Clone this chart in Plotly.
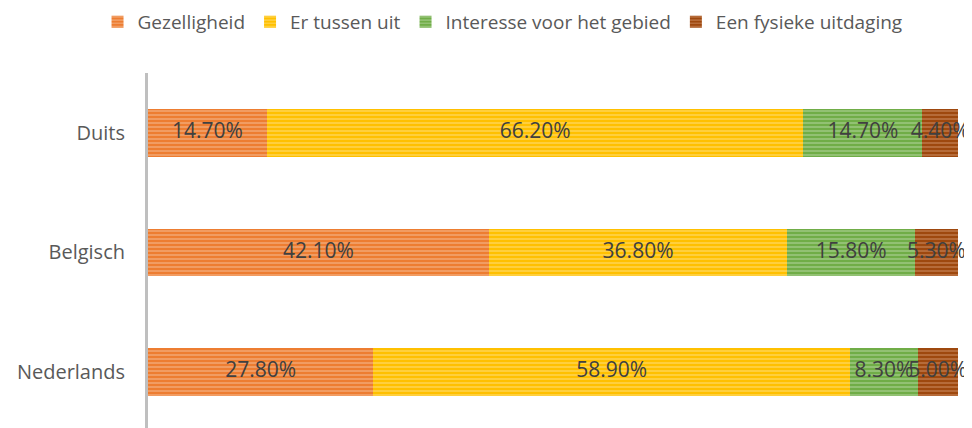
import plotly.graph_objects as go

categories = ["Nederlands", "Belgisch", "Duits"]
series_names = ["Gezelligheid", "Er tussen uit", "Interesse voor het gebied", "Een fysieke uitdaging"]
gezelligheid = [27.8, 42.1, 14.7]
er_tussen_uit = [58.9, 36.8, 66.2]
interesse = [8.3, 15.8, 14.7]
fysiek = [5.0, 5.3, 4.4]

series_values = [gezelligheid, er_tussen_uit, interesse, fysiek]
colors = ["#ED7D31", "#FFC000", "#70AD47", "#9E480E"]
fg = ["#F8CBAD", "#FFE699", "#C5E0B4", "#D9A07A"]

FONT = "Open Sans"

fig = go.Figure()
base = [0.0] * len(categories)
label_x, label_y, label_t = [], [], []
for name, vals, c, f in zip(series_names, series_values, colors, fg):
    fig.add_trace(go.Bar(
        y=categories, x=vals, name=name, orientation="h",
        marker=dict(color=c, line=dict(width=0),
                    pattern=dict(shape="-", fgcolor=f, size=4, solidity=0.4, fillmode="overlay")),
        width=0.4, hoverinfo="x+name",
    ))
    for i, v in enumerate(vals):
        label_x.append(base[i] + v / 2)
        label_y.append(categories[i])
        label_t.append(f"{v:.2f}%")
        base[i] += v

fig.add_trace(go.Scatter(
    x=label_x, y=label_y, text=label_t, mode="text", showlegend=False,
    textposition="middle center", cliponaxis=False, hoverinfo="skip",
    textfont=dict(family=FONT, size=21, color="#404040"),
))

fig.update_layout(
    barmode="stack",
    width=964, height=420,
    margin=dict(l=140, r=14, t=65, b=0),
    paper_bgcolor="white", plot_bgcolor="white",
    font=dict(family=FONT, size=20, color="#595959"),
    legend=dict(orientation="h", xref="container", x=0.513, xanchor="center",
                yref="container", y=0.967, yanchor="middle",
                font=dict(family=FONT, size=19, color="#595959"), itemwidth=30,
                traceorder="normal"),
    xaxis=dict(range=[0, 100], showgrid=False, showticklabels=False, zeroline=False, fixedrange=True,
               automargin=False),
    yaxis=dict(type="category", categoryorder="array", categoryarray=categories,
               range=[-0.469, 2.502], showgrid=False, showline=True, linecolor="#BFBFBF", linewidth=3,
               ticks="", ticklabelstandoff=16, automargin=False,
               tickfont=dict(family=FONT, size=20, color="#595959")),
    showlegend=True,
)
fig.write_html("out.html")
